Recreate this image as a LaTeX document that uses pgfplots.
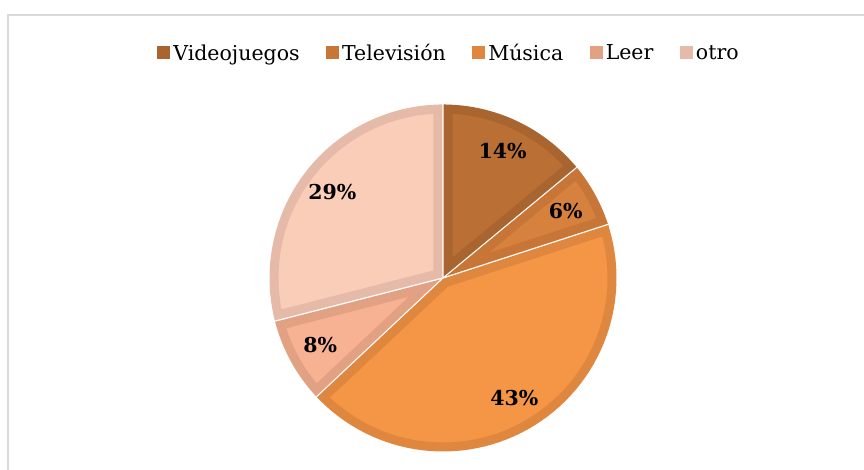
\documentclass[border=0pt]{standalone}
\usepackage{fontspec}
\setmainfont{DejaVu Serif}
\usepackage{pgfplots}
\pgfplotsset{compat=1.18}
\definecolor{fV}{RGB}{186,112,52}
\definecolor{bV}{RGB}{169,101,47}
\definecolor{fT}{RGB}{215,129,62}
\definecolor{bT}{RGB}{200,118,56}
\definecolor{fM}{RGB}{244,150,70}
\definecolor{bM}{RGB}{224,135,63}
\definecolor{fL}{RGB}{247,178,147}
\definecolor{bL}{RGB}{226,161,131}
\definecolor{fO}{RGB}{250,205,185}
\definecolor{bO}{RGB}{229,186,168}
\definecolor{frame}{RGB}{217,217,217}
% data (percent)
\def\vV{14}\def\vT{6}\def\vM{43}\def\vL{8}\def\vO{29}
\pgfmathsetmacro\aA{90}
\pgfmathsetmacro\aB{\aA-3.6*\vV}
\pgfmathsetmacro\aC{\aB-3.6*\vT}
\pgfmathsetmacro\aD{\aC-3.6*\vM}
\pgfmathsetmacro\aE{\aD-3.6*\vL}
\pgfmathsetmacro\aF{\aE-3.6*\vO}
% geometry: centre, outer radius, border width, white gap, label radius
\def\cx{443}\def\cy{192}\def\rr{173.5}\def\bw{9}\def\gap{1.4}\def\rl{140}
\pgfmathsetmacro\rp{\rr-\bw/2}
\pgfmathsetmacro\off{\bw/2+\gap/2}
\newcommand\wc[3]{%
  \pgfmathsetmacro\tmpda{asin(\off/\rp)}%
  \pgfmathsetmacro\tmps{#3+\tmpda}%
  \pgfmathsetmacro\tmpe{#2-\tmpda}%
  \pgfmathsetmacro\tmpq{\off/sin((#2-#3)/2)}%
  \pgfmathsetmacro\tmpx{\cx+\tmpq*cos((#2+#3)/2)}%
  \pgfmathsetmacro\tmpy{\cy+\tmpq*sin((#2+#3)/2)}%
  \expandafter\xdef\csname s#1\endcsname{\tmps}%
  \expandafter\xdef\csname e#1\endcsname{\tmpe}%
  \expandafter\xdef\csname x#1\endcsname{\tmpx}%
  \expandafter\xdef\csname y#1\endcsname{\tmpy}%
}
\wc{V}{\aA}{\aB}
\wc{T}{\aB}{\aC}
\wc{M}{\aC}{\aD}
\wc{L}{\aD}{\aE}
\wc{O}{\aE}{\aF}
\newcommand\lsq[1]{\path[fill=#1, draw=none, line width=0pt] (0pt,-6.5pt) rectangle (13pt,6.5pt);}
\begin{document}
\begin{tikzpicture}
\useasboundingbox (0,0) rectangle (864pt,470pt);
\fill[white] (0,0) rectangle (864pt,470pt);
\draw[frame, line width=1.6pt] (8pt,-10pt) |- (880pt,455pt);
\begin{axis}[x=1pt,y=1pt,xmin=0,xmax=864,ymin=0,ymax=470,
  hide axis, anchor=origin, at={(0pt,0pt)}, clip=false,
  legend columns=5,
  legend style={draw=none, fill=none, inner sep=0pt,
    at={(448/864,417/470)}, anchor=center,
    font=\fontsize{20.5}{24}\selectfont,
    nodes={inner sep=0pt},
    /tikz/every odd column/.style={column sep=3pt},
    /tikz/every even column/.style={column sep=26.5pt}},
  every axis plot/.append style={samples=60, variable=\t},
  wedge/.style={line width=\bw pt, line join=miter},
]
\addlegendimage{legend image code/.code={\lsq{bV}}}\addlegendentry{Videojuegos}
\addlegendimage{legend image code/.code={\lsq{bT}}}\addlegendentry{Televisión}
\addlegendimage{legend image code/.code={\lsq{bM}}}\addlegendentry{Música}
\addlegendimage{legend image code/.code={\lsq{bL}}}\addlegendentry{Leer}
\addlegendimage{legend image code/.code={\lsq{bO}}}\addlegendentry{otro}
\addplot[wedge, fill=fV, draw=bV, domain=\sV:\eV, forget plot] ({\cx+\rp*cos(\t)},{\cy+\rp*sin(\t)}) -- (\xV,\yV) -- cycle;
\addplot[wedge, fill=fT, draw=bT, domain=\sT:\eT, forget plot] ({\cx+\rp*cos(\t)},{\cy+\rp*sin(\t)}) -- (\xT,\yT) -- cycle;
\addplot[wedge, fill=fM, draw=bM, domain=\sM:\eM, forget plot] ({\cx+\rp*cos(\t)},{\cy+\rp*sin(\t)}) -- (\xM,\yM) -- cycle;
\addplot[wedge, fill=fL, draw=bL, domain=\sL:\eL, forget plot] ({\cx+\rp*cos(\t)},{\cy+\rp*sin(\t)}) -- (\xL,\yL) -- cycle;
\addplot[wedge, fill=fO, draw=bO, domain=\sO:\eO, forget plot] ({\cx+\rp*cos(\t)},{\cy+\rp*sin(\t)}) -- (\xO,\yO) -- cycle;
\begin{scope}[every node/.style={font=\bfseries\fontsize{20.5}{24}\selectfont}]
\node at (axis cs:{\cx+\rl*cos((\aA+\aB)/2)},{\cy+\rl*sin((\aA+\aB)/2)}) {\vV\%};
\node at (axis cs:{\cx+\rl*cos((\aB+\aC)/2)},{\cy+\rl*sin((\aB+\aC)/2)}) {\vT\%};
\node at (axis cs:{\cx+\rl*cos((\aC+\aD)/2)},{\cy+\rl*sin((\aC+\aD)/2)}) {\vM\%};
\node at (axis cs:{\cx+\rl*cos((\aD+\aE)/2)},{\cy+\rl*sin((\aD+\aE)/2)}) {\vL\%};
\node at (axis cs:{\cx+\rl*cos((\aE+\aF)/2)},{\cy+\rl*sin((\aE+\aF)/2)}) {\vO\%};
\end{scope}
\end{axis}
\end{tikzpicture}
\end{document}
